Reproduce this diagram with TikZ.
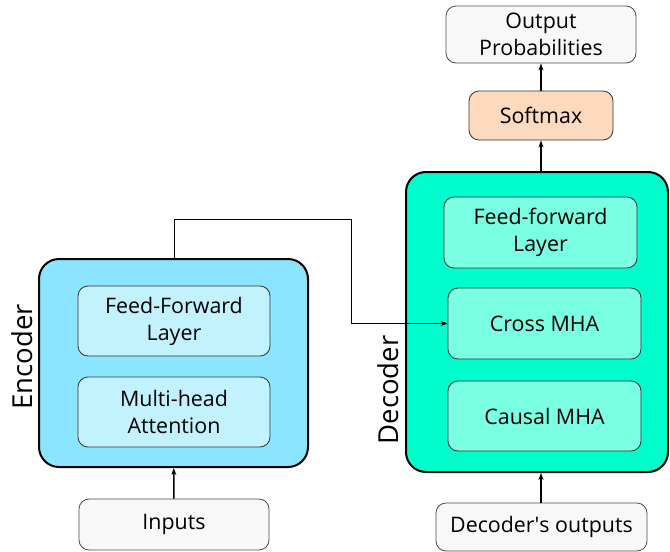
\documentclass[tikz,border=0pt]{standalone}
\usepackage{fontspec}
\setmainfont{Open Sans}
\usetikzlibrary{arrows.meta}
\definecolor{encfill}{HTML}{8BE5FF}
\definecolor{encinner}{HTML}{C3F2FF}
\definecolor{decfill}{HTML}{00FDCB}
\definecolor{decinner}{HTML}{7BFFE3}
\definecolor{softfill}{HTML}{FDD9BE}
\definecolor{iofill}{HTML}{F8F8F8}
\begin{document}
\begin{tikzpicture}[x=1pt,y=-1pt,
  block/.style={draw=black, line width=2pt, rounded corners=20pt, inner sep=0pt},
  layer/.style={draw=black!80, line width=0.8pt, rounded corners=10pt, inner sep=0pt,
    align=center, font=\fontsize{21.4}{27}\selectfont},
  iobox/.style={layer, fill=iofill, draw=black!70},
  flow/.style={-{Stealth[length=7pt,width=5pt]}, line width=1.5pt},
  link/.style={-{Stealth[length=7pt,width=5pt]}, line width=0.8pt},
  blocklabel/.style={rotate=90, font=\fontsize{27.5}{32}\selectfont}]
\useasboundingbox (0,0) rectangle (670,552);

% encoder stack
\node[block, fill=encfill, minimum width=269pt, minimum height=208pt] (enc) at (173.5,363) {};
\node[layer, fill=encinner, minimum width=192pt, minimum height=70pt] (encff) at (174,321) {Feed-Forward\\Layer};
\node[layer, fill=encinner, minimum width=192pt, minimum height=70pt] (encmha) at (174,412) {Multi-head\\Attention};
\node[blocklabel] (enclabel) at (22,357) {Encoder};
\node[iobox, minimum width=190pt, minimum height=51pt] (inputs) at (174,524.5) {Inputs};

% decoder stack
\node[block, fill=decfill, minimum width=262pt, minimum height=300pt] (dec) at (537,322) {};
\node[layer, fill=decinner, minimum width=193pt, minimum height=71pt] (decff) at (540.5,232.5) {Feed-forward\\Layer};
\node[layer, fill=decinner, minimum width=193pt, minimum height=71pt] (cross) at (544.5,323.5) {Cross MHA};
\node[layer, fill=decinner, minimum width=193pt, minimum height=70pt] (causal) at (544.5,416) {Causal MHA};
\node[blocklabel] (declabel) at (388,390) {Decoder};
\node[iobox, minimum width=211pt, minimum height=48pt] (decout) at (541.5,527) {Decoder\textquotesingle s outputs};

% output head
\node[layer, fill=softfill, minimum width=144pt, minimum height=49pt] (softmax) at (541,115.5) {Softmax};
\node[iobox, minimum width=190pt, minimum height=57pt] (outprob) at (541,34.5) {Output\\Probabilities};

% connectors
\draw[flow] (decout.north -| softmax.south) -- (softmax.south |- dec.south);
\draw[flow] (inputs) -- (enc);
\draw[flow] (softmax.south |- dec.north) -- (softmax.south);
\draw[flow] (softmax.north) -- (outprob.south);
\coordinate (bend) at (351,219);
\draw[link] (enc.north -| inputs.north) |- (bend) |- (cross.west);
\end{tikzpicture}
\end{document}
